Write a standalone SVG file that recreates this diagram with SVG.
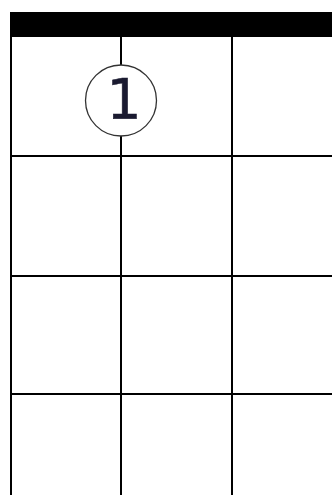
<svg xmlns="http://www.w3.org/2000/svg" width="332" height="495" viewBox="0 0 332 495">
  <style>
    .line { stroke: #000; stroke-width: 2; fill: none; }
    .dot { fill: #fff; stroke: #333; stroke-width: 1.3; }
    .lbl { font-family: "DejaVu Sans", sans-serif; font-size: 55px; fill: #1a1a30; text-anchor: middle; stroke: #1a1a30; stroke-width: 0.6; }
  </style>
  <rect width="332" height="495" fill="#fff"/>
  <g id="grid">
    <rect id="nut" x="10" y="12" width="322" height="25" fill="#000"/>
    <line class="line" x1="11" y1="37" x2="11" y2="495"/>
    <line class="line" x1="121" y1="37" x2="121" y2="495"/>
    <line class="line" x1="232" y1="37" x2="232" y2="495"/>
    <line class="line" x1="10" y1="156" x2="332" y2="156"/>
    <line class="line" x1="10" y1="276" x2="332" y2="276"/>
    <line class="line" x1="10" y1="394" x2="332" y2="394"/>
  </g>
  <g id="finger1">
    <circle class="dot" cx="121" cy="100.5" r="35.5"/>
    <text class="lbl" x="124" y="118">1</text>
  </g>
</svg>
